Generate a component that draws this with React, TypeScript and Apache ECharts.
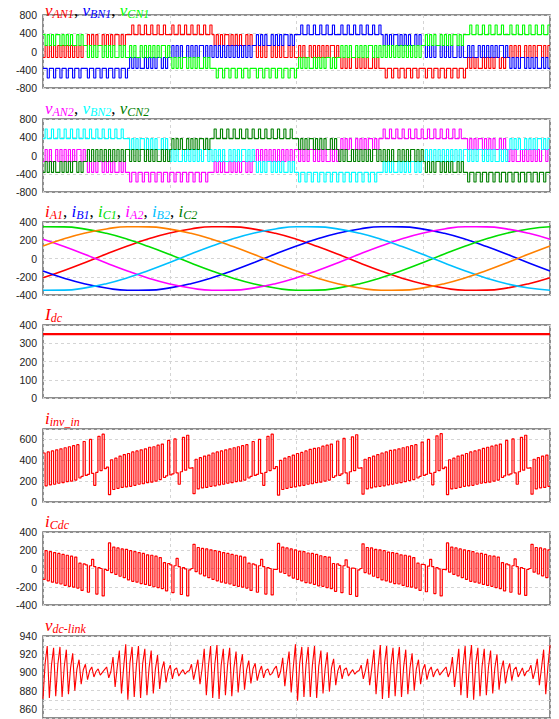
import React, { useEffect, useRef } from "react";
import * as echarts from "echarts";

// One fundamental period is split in 240 samples (4 grid divisions of 60)
const X_MAX = 240;

// Phase-voltage levels (V) used by the switching strings
const LEVEL: Record<string, number> = { A: -580, B: -370, C: -130, D: 130, E: 370, F: 580 };

// Switching patterns read per 30° sector (20 samples each)
const Z_a = "CDCDCDCDCDCDCDCDCDCD";
const Z_b = "DCDCDCDDCDCDCDCCDCDC";
const Z_c = "CDCDCCDCDCDCDCDCDDCD";
const Z_d = "CDCDCDCCDCDCDCDDCDCD";
const P1_a = "DEDEDEDDEDEDEDEEDEDE";
const P1_b = "EDEDEDEEDEDEDEDDEDED";
const P2_a = "EEFEEFEEFEEFEEFEEFEE";
const P2_b = "EFEEFEEFEEFEEFEEFEEF";
const N1_a = "CBCBCBCCBCBCBCBBCBCB";
const N1_b = "BCBCBCBBCBCBCBCCBCBC";
const N2_a = "BBABBABBABBABBABBABB";
const N2_b = "BABBABBABBABBABBABBA";

const vAN1 = [Z_a, P1_a, P2_a, P2_b, P1_b, Z_b, Z_c, N1_a, N2_a, N2_b, N1_b, Z_d];
const vBN1 = [N2_a, N2_b, N1_b, Z_d, Z_a, P1_a, P2_a, P2_b, P1_b, Z_b, Z_c, N1_a];
const vCN1 = [P1_b, Z_b, Z_c, N1_a, N2_a, N2_b, N1_b, Z_d, Z_a, P1_a, P2_a, P2_b];
const vAN2 = [Z_c, N1_a, N2_b, N2_a, N1_b, Z_a, Z_b, P1_a, P2_b, P2_a, P1_b, Z_c];
const vBN2 = [P2_b, P2_a, P1_b, Z_c, Z_d, N1_a, N2_b, N2_a, N1_b, Z_a, Z_b, P1_a];
const vCN2 = [N1_b, Z_a, Z_b, P1_a, P2_b, P2_a, P1_b, Z_c, Z_d, N1_a, N2_b, N2_a];

// Phase currents (A), read every 15°
const iA1 = [-211, -131, -43, 49, 137, 216, 280, 324, 348, 347, 322, 276, 211, 131, 43, -49, -137, -216, -280, -324, -348, -347, -322, -276, -211];
const iB1 = [-137, -216, -280, -324, -348, -347, -322, -276, -211, -131, -43, 49, 137, 216, 280, 324, 348, 347, 322, 276, 211, 131, 43, -49, -137];
const iC1 = [348, 347, 322, 276, 211, 131, 43, -49, -137, -216, -280, -324, -348, -347, -322, -276, -211, -131, -43, 49, 137, 216, 280, 324, 348];
const iA2 = [211, 131, 43, -49, -137, -216, -280, -324, -348, -347, -322, -276, -211, -131, -43, 49, 137, 216, 280, 324, 348, 347, 322, 276, 211];
const iB2 = [-348, -347, -322, -276, -211, -131, -43, 49, 137, 216, 280, 324, 348, 347, 322, 276, 211, 131, 43, -49, -137, -216, -280, -324, -348];
const iC2 = [137, 216, 280, 324, 348, 347, 322, 276, 211, 131, 43, -49, -137, -216, -280, -324, -348, -347, -322, -276, -211, -131, -43, 49, 137];

// DC current
const Idc = [350, 350];

// Inverter input current (A), 240 samples
const iInvIn = [
  470,155,480,165,490,170,500,180,510,185,520,195,530,200,540,210,550,230,245,580,255,265,600,275,160,285,630,300,650,320,
  335,70,405,120,420,130,440,140,455,145,465,150,480,160,490,170,500,175,510,185,525,190,530,200,545,215,555,235,250,590,260,270,605,280,170,290,620,305,640,325,
  330,80,410,125,425,135,440,140,450,150,470,155,480,165,490,170,500,180,510,185,520,195,530,200,540,210,550,230,245,580,255,265,600,275,160,285,630,300,650,320,
  340,65,400,120,420,130,435,140,450,145,465,155,475,160,490,170,505,175,515,185,520,190,535,200,545,210,555,235,250,585,255,270,610,280,175,290,625,300,645,325,
  330,75,410,125,425,135,440,145,455,150,470,155,480,165,495,170,500,180,510,185,520,195,530,205,540,215,550,230,245,575,255,265,600,275,165,285,635,300,655,320,
  335,70,405,125,420,130,440,140,450,150,465,155,480,160,490,170,500,180,515,185,525,190,535,200,545,210,555,235,250,590,260,270,605,280,170,290,620,305,640,325,
  330,75,410,125,425,135,440,140,450,150,
];

// DC-link capacitor current (A), 240 samples
const iCdc = [
  -120,195,-135,185,-150,175,-160,165,-170,155,-185,145,-195,135,-205,125,-215,60,-240,50,40,-260,30,100,20,-280,10,0,-300,-10,
  -20,280,-45,235,-65,225,-85,215,-100,210,-125,195,-140,185,-150,175,-165,165,-175,150,-185,145,-200,135,-210,120,-220,65,-245,55,40,-265,30,110,20,-285,10,-5,-300,-15,
  0,265,-35,230,-60,220,-80,215,-100,205,-120,195,-135,185,-150,175,-160,165,-170,155,-185,145,-195,135,-205,125,-215,60,-240,50,40,-260,30,100,20,-280,10,0,-290,-10,
  -10,275,-40,235,-55,225,-80,215,-105,205,-120,190,-135,185,-155,170,-160,165,-175,155,-190,140,-195,130,-210,125,-220,55,-250,50,35,-265,30,95,15,-285,5,0,-305,-15,
  0,270,-45,230,-60,225,-85,210,-100,205,-125,195,-135,180,-150,175,-165,165,-170,150,-185,145,-200,135,-205,120,-215,60,-240,45,40,-255,25,100,20,-275,10,-5,-300,-10,
  -15,280,-40,235,-65,225,-80,215,-100,205,-120,195,-140,185,-150,170,-160,165,-175,155,-185,140,-195,135,-210,125,-220,65,-245,50,40,-260,30,105,20,-280,10,0,-295,-10,
  0,265,-40,230,-60,225,-80,215,-100,205,
];

// DC-link voltage (V), 240 samples
const vDcLink = [
  871,910,929,872,908,927,874,909,928,873,906,925,876,905,921,880,904,914,887,903,909,892,902,906,895,901,904,897,900,903,
  906,894,901,917,884,906,924,877,905,931,870,911,928,873,907,929,872,910,926,875,905,924,877,904,919,882,903,912,889,902,908,893,903,905,896,900,903,898,901,902,
  909,892,903,914,887,904,926,875,907,929,872,909,930,871,908,926,875,908,927,874,905,923,878,906,920,881,903,913,888,904,910,891,901,907,894,902,904,897,899,904,
  907,894,901,916,885,906,923,878,906,931,869,910,928,873,909,928,873,908,929,872,907,924,877,904,922,879,905,915,886,902,908,893,903,905,896,900,903,898,901,902,
  908,893,902,915,886,905,925,876,906,930,871,910,929,872,908,927,874,909,928,873,906,925,876,905,921,880,904,914,887,903,909,892,902,906,895,901,904,897,900,903,
  906,895,901,917,884,905,926,875,907,929,872,909,930,870,910,927,874,907,926,875,906,924,877,905,920,881,903,913,888,902,910,891,903,906,895,900,905,896,901,902,
  908,893,902,915,886,905,925,876,906,930,
];

const COLORS: Record<string, string> = {
  r: "#ff0000", b: "#0000ff", g: "#00ff00", m: "#ff00ff", c: "#00ffff",
  d: "#008000", o: "#ff8000", l: "#00bfff", g2: "#00dd00",
};

const GRIDS = [
  { top: 15, height: 73 }, { top: 119, height: 73 }, { top: 222, height: 73 }, { top: 325, height: 73 },
  { top: 429, height: 73 }, { top: 532, height: 73 }, { top: 636, height: 82 },
];

const Y_AXES = [
  { min: -800, max: 800, interval: 400, labels: [-800, -400, 0, 400, 800] },
  { min: -800, max: 800, interval: 400, labels: [-800, -400, 0, 400, 800] },
  { min: -400, max: 400, interval: 200, labels: [-400, -200, 0, 200, 400] },
  { min: 0, max: 400, interval: 100, labels: [0, 100, 200, 300, 400] },
  { min: 0, max: 700, interval: 200, labels: [0, 200, 400, 600] },
  { min: -400, max: 400, interval: 200, labels: [-400, -200, 0, 200, 400] },
  { min: 850, max: 940, interval: 10, labels: [860, 880, 900, 920, 940] },
];

const TITLES: [string, string, string][][] = [
  [["v", "AN1", "r"], ["v", "BN1", "b"], ["v", "CN1", "g"]],
  [["v", "AN2", "m"], ["v", "BN2", "c"], ["v", "CN2", "d"]],
  [["i", "A1", "r"], ["i", "B1", "b"], ["i", "C1", "g2"], ["i", "A2", "m"], ["i", "B2", "l"], ["i", "C2", "d"]],
  [["I", "dc", "r"]],
  [["i", "inv_in", "r"]],
  [["i", "Cdc", "r"]],
  [["v", "dc-link", "r"]],
];

// explicit staircase points (each sample held until the next one)
function holdPoints(values: number[]) {
  const n = values.length;
  const pts: number[][] = [];
  for (let i = 0; i < n; i++) {
    pts.push([(i * X_MAX) / n, values[i]]);
    pts.push([((i + 1) * X_MAX) / n, values[i]]);
  }
  return pts;
}
function pwmData(sectors: string[]) {
  const s = sectors.join("");
  return holdPoints(s.split("").map((ch) => LEVEL[ch]));
}
function evenData(arr: number[]) {
  return arr.map((v, i) => [(i * X_MAX) / (arr.length - 1), v]);
}

export default function App() {
  const ref = useRef<HTMLDivElement>(null);
  useEffect(() => {
    if (!ref.current) return;
    const chart = echarts.init(ref.current, undefined, { renderer: "svg" });

    const rich: Record<string, any> = {
      k: { color: "#000", fontSize: 17, fontWeight: "normal", fontFamily: "Liberation Serif", lineHeight: 20 },
    };
    Object.keys(COLORS).forEach((c) => {
      rich["M" + c] = { color: COLORS[c], fontSize: 17, fontStyle: "italic", fontWeight: "normal", fontFamily: "Liberation Serif", lineHeight: 20 };
      rich["S" + c] = { color: COLORS[c], fontSize: 12, fontStyle: "italic", fontWeight: "normal", fontFamily: "Liberation Serif", lineHeight: 12, verticalAlign: "bottom" };
    });

    const titles = TITLES.map((parts, k) => ({
      text: parts.map(([m, s, c]) => `{M${c}|${m}}{S${c}|${s}}`).join("{k|, }"),
      left: 45,
      top: k === 0 ? 0 : GRIDS[k].top - 21,
      padding: 0,
      textStyle: { fontWeight: "normal", rich },
    }));

    const grid = GRIDS.map((g) => ({
      left: 43, right: 9, top: g.top, height: g.height, show: true,
      backgroundColor: "#ffffff", borderColor: "#6a6a6a", borderWidth: 1.5,
    }));

    const xAxis = GRIDS.map((_, k) => ({
      type: "value", gridIndex: k, min: 0, max: X_MAX, interval: 60,
      axisLine: { show: false }, axisTick: { show: false }, axisLabel: { show: false },
      splitLine: { show: true, lineStyle: { color: "#d4d4d4", type: [3, 3], width: 1 } },
    }));

    const yAxis = Y_AXES.map((a, k) => ({
      type: "value", gridIndex: k, min: a.min, max: a.max, interval: a.interval,
      axisLine: { show: false }, axisTick: { show: false },
      axisLabel: {
        color: "#222", fontSize: 10.5, fontFamily: "Liberation Sans", margin: 6,
        formatter: (v: number) => (a.labels.indexOf(Math.round(v)) >= 0 ? String(Math.round(v)) : ""),
      },
      splitLine: { show: true, lineStyle: { color: "#d4d4d4", type: [3, 3], width: 1 } },
    }));

    const line = (k: number, data: number[][], color: string, width = 1, smooth = false) => ({
      type: "line", xAxisIndex: k, yAxisIndex: k, data, showSymbol: false, symbol: "none",
      silent: true, smooth, lineStyle: { color, width }, itemStyle: { color },
    });

    const series = [
      line(0, pwmData(vAN1), COLORS.r, 1.1),
      line(0, pwmData(vBN1), COLORS.b, 1.1),
      line(0, pwmData(vCN1), COLORS.g, 1.1),
      line(1, pwmData(vAN2), COLORS.m, 1.1),
      line(1, pwmData(vBN2), COLORS.c, 1.1),
      line(1, pwmData(vCN2), COLORS.d, 1.1),
      line(2, evenData(iA1), COLORS.r, 1.6, true),
      line(2, evenData(iB1), COLORS.b, 1.6, true),
      line(2, evenData(iC1), COLORS.g2, 1.6, true),
      line(2, evenData(iA2), COLORS.m, 1.6, true),
      line(2, evenData(iB2), COLORS.l, 1.6, true),
      line(2, evenData(iC2), COLORS.o, 1.6, true),
      line(3, evenData(Idc), COLORS.r, 2.2),
      line(4, holdPoints(iInvIn), COLORS.r, 1.2),
      line(5, holdPoints(iCdc), COLORS.r, 1.2),
      line(6, evenData(vDcLink), COLORS.r, 1.1),
    ];

    chart.setOption({ animation: false, backgroundColor: "#ffffff", title: titles, grid, xAxis, yAxis, series });
    return () => chart.dispose();
  }, []);

  return <div ref={ref} style={{ position: "absolute", left: 0, top: 0, width: 559, height: 719 }} />;
}
